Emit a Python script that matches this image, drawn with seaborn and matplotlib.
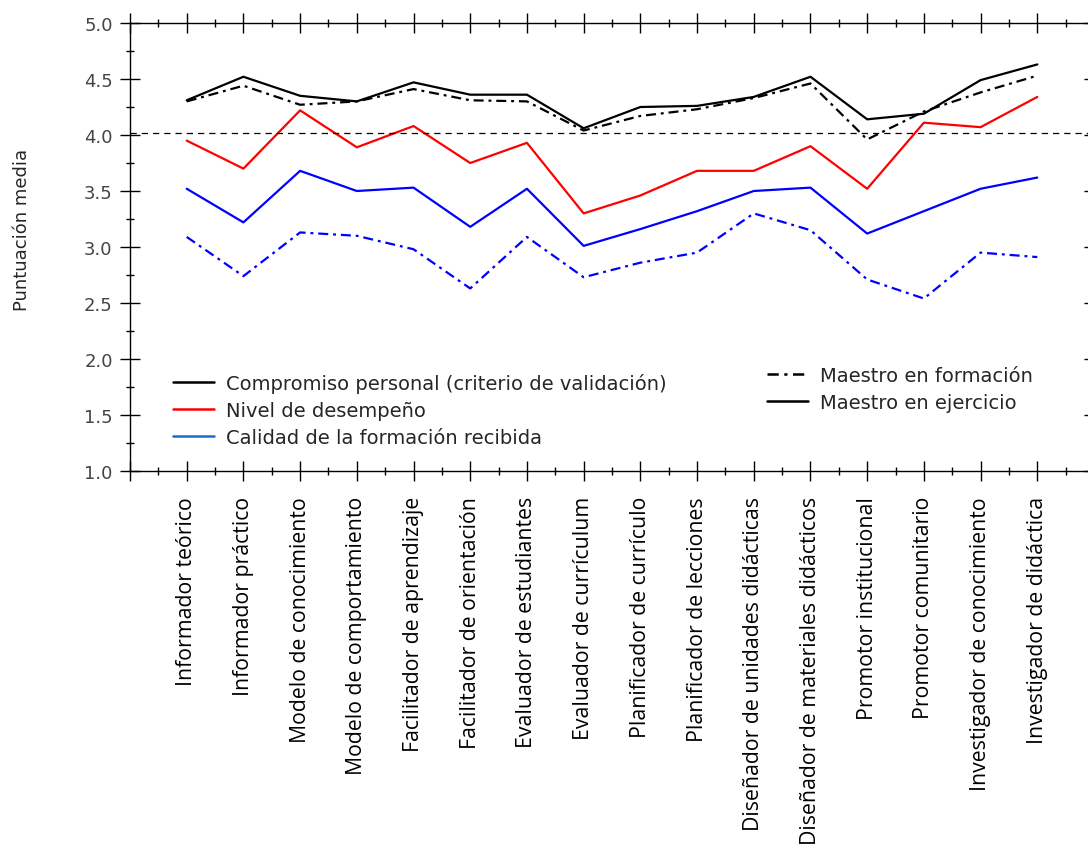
import numpy as np
import matplotlib.pyplot as plt
from matplotlib.lines import Line2D
from matplotlib.ticker import MultipleLocator, FormatStrFormatter
import seaborn as sns

# Data
roles = [
    'Informador teórico', 'Informador práctico', 'Modelo de conocimiento',
    'Modelo de comportamiento', 'Facilitador de aprendizaje',
    'Facilitador de orientación', 'Evaluador de estudiantes',
    'Evaluador de currículum', 'Planificador de currículo',
    'Planificador de lecciones', 'Diseñador de unidades didácticas',
    'Diseñador de materiales didácticos', 'Promotor institucional',
    'Promotor comunitario', 'Investigador de conocimiento',
    'Investigador de didáctica',
]
compromiso_formacion = [4.30, 4.44, 4.27, 4.30, 4.41, 4.31, 4.30, 4.04,
                        4.17, 4.23, 4.33, 4.46, 3.96, 4.21, 4.38, 4.53]
compromiso_ejercicio = [4.31, 4.52, 4.35, 4.30, 4.47, 4.36, 4.36, 4.06,
                        4.25, 4.26, 4.34, 4.52, 4.14, 4.19, 4.49, 4.63]
desempeno = [3.95, 3.70, 4.22, 3.89, 4.08, 3.75, 3.93, 3.30,
             3.46, 3.68, 3.68, 3.90, 3.52, 4.11, 4.07, 4.34]
calidad_ejercicio = [3.52, 3.22, 3.68, 3.50, 3.53, 3.18, 3.52, 3.01,
                     3.16, 3.32, 3.50, 3.53, 3.12, 3.32, 3.52, 3.62]
calidad_formacion = [3.09, 2.74, 3.13, 3.10, 2.98, 2.63, 3.09, 2.73,
                     2.86, 2.95, 3.30, 3.15, 2.71, 2.54, 2.95, 2.91]
umbral = 4.02

sns.set_style('ticks')
plt.rcParams['font.family'] = ['DejaVu Sans']

W, H = 1088, 853
fig = plt.figure(figsize=(W / 100, H / 100), dpi=100)
ax = fig.add_axes([130 / W, (H - 472) / H, 964 / W, 448 / H])

x = np.arange(len(roles))
dashdot = (0, (4.5, 2.2, 1.3, 2.2))
common = dict(ax=ax, sort=False, estimator=None, errorbar=None, lw=1.6)

sns.lineplot(x=x, y=calidad_formacion, color='blue', linestyle=dashdot, **common)
sns.lineplot(x=x, y=calidad_ejercicio, color='blue', linestyle='-', **common)
sns.lineplot(x=x, y=desempeno, color='red', linestyle='-', **common)
sns.lineplot(x=x, y=compromiso_formacion, color='black', linestyle=dashdot, **common)
sns.lineplot(x=x, y=compromiso_ejercicio, color='black', linestyle='-', **common)
ax.axhline(umbral, color='black', lw=0.9, linestyle=(0, (5, 4)))

# Axes
ax.set_xlim(-1, 16)
ax.set_ylim(1, 5)
ax.set_xticks(np.arange(-1, 17))
ax.set_xticklabels([''] + roles + [''], rotation=90, color='black',
                   fontsize=15.3, family=['Open Sans', 'DejaVu Sans'])
ax.xaxis.set_minor_locator(MultipleLocator(0.5))
ax.yaxis.set_major_locator(MultipleLocator(0.5))
ax.yaxis.set_minor_locator(MultipleLocator(0.25))
ax.yaxis.set_major_formatter(FormatStrFormatter('%.1f'))
for lab in ax.get_yticklabels():
    lab.set_color('#444444')
    lab.set_fontsize(13)

ax.tick_params(which='major', direction='inout', length=14, width=1,
               top=True, bottom=True, left=True, right=True, color='black')
ax.tick_params(which='minor', direction='inout', length=6, width=1,
               top=True, bottom=True, left=True, right=True, color='black')
ax.tick_params(axis='x', which='major', pad=11)
ax.tick_params(axis='y', which='major', pad=5.5)
ax.set_xlabel('')
ax.set_ylabel('')
for side in ['left', 'bottom', 'top']:
    ax.spines[side].set_color('black')
    ax.spines[side].set_linewidth(1)
ax.spines['right'].set_visible(False)

fig.text(22 / W, 1 - 230 / H, 'Puntuación media', rotation=90,
         ha='center', va='center', fontsize=13, color='#262626')

# Legends
h1 = [Line2D([], [], color='black', lw=1.8),
      Line2D([], [], color='red', lw=1.8),
      Line2D([], [], color='#1a6cc8', lw=1.8)]
l1 = ['Compromiso personal (criterio de validación)', 'Nivel de desempeño',
      'Calidad de la formación recibida']
fig.legend(h1, l1, loc='center left', bbox_to_anchor=(173 / W, 1 - 411 / H),
           frameon=False, fontsize=14, borderpad=0, borderaxespad=0,
           handlelength=2.1, handletextpad=0.62, labelspacing=0.4,
           labelcolor='#262626')

h2 = [Line2D([], [], color='black', lw=1.8, linestyle=dashdot),
      Line2D([], [], color='black', lw=1.8)]
l2 = ['Maestro en formación', 'Maestro en ejercicio']
fig.legend(h2, l2, loc='center left', bbox_to_anchor=(767 / W, 1 - 390 / H),
           frameon=False, fontsize=14, borderpad=0, borderaxespad=0,
           handlelength=2.1, handletextpad=0.62, labelspacing=0.4,
           labelcolor='#262626')

fig.savefig('out.png', dpi=100)
